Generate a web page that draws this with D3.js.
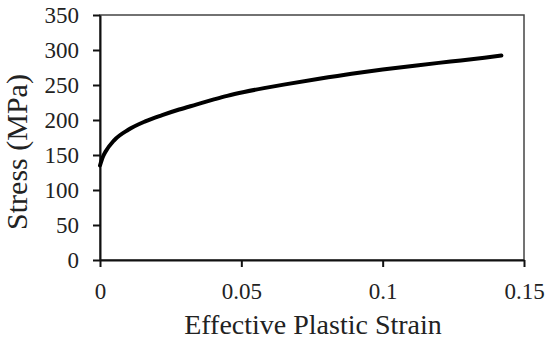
<!DOCTYPE html>
<html lang="en">
<head>
  <meta charset="UTF-8" />
  <script src="https://d3js.org/d3.v7.min.js"></script>
  <title>Stress vs strain</title>
  <style>
    body { margin: 0; background: #fff; }
    text { font-family: "Liberation Serif", "Times New Roman", serif; fill: #222; }
    .tick text { font-size: 23px; }
    .axis path, .axis line { stroke: #111; stroke-width: 2; }
    .frame { fill: none; stroke: #444; stroke-width: 1.5; }
    .curve { fill: none; stroke: #000; stroke-width: 4; stroke-linejoin: round; stroke-linecap: round; }
  </style>
</head>
<body>
<script>
// values
var strain = [0, 0.001, 0.002, 0.005, 0.010, 0.016, 0.022, 0.028, 0.034, 0.040, 0.045,
              0.051, 0.058, 0.065, 0.077, 0.089, 0.100, 0.112, 0.124, 0.136, 0.142];
var stress = [135, 147, 155, 171, 186, 198, 207, 215, 222, 229, 234.5,
              240, 245.5, 250.5, 258.5, 266, 272, 278, 283.5, 289, 292];
var xTicks = [0, 0.05, 0.1, 0.15];
var yTicks = [0, 50, 100, 150, 200, 250, 300, 350];

var width = 550, height = 342;
var mLeft = 100, mRight = 524, mTop = 15, mBottom = 260;

var svg = d3.select("body").append("svg")
  .attr("width", width).attr("height", height);

var x = d3.scaleLinear().domain([0, 0.15]).range([mLeft, mRight]);
var y = d3.scaleLinear().domain([0, 350]).range([mBottom, mTop]);

// top/right frame
svg.append("rect").attr("class", "frame")
  .attr("x", mLeft).attr("y", mTop)
  .attr("width", mRight - mLeft).attr("height", mBottom - mTop);

var xAxis = svg.append("g").attr("class", "axis")
  .attr("transform", "translate(0," + mBottom + ")")
  .call(d3.axisBottom(x).tickValues(xTicks).tickSize(7).tickSizeOuter(0)
    .tickFormat(function(d){ return d3.format("")(d); }));
xAxis.selectAll(".tick text").attr("dy", "1.25em");

var yAxis = svg.append("g").attr("class", "axis")
  .attr("transform", "translate(" + mLeft + ",0)")
  .call(d3.axisLeft(y).tickValues(yTicks).tickSize(7).tickSizeOuter(0));
yAxis.selectAll(".tick text").attr("x", -21).attr("dy", "0.34em");
svg.selectAll(".domain").attr("stroke-width", 2.2);

var pts = strain.map(function(s, i){ return [s, stress[i]]; });
var line = d3.line()
  .x(function(d){ return x(d[0]); })
  .y(function(d){ return y(d[1]); })
  .curve(d3.curveMonotoneX);
svg.append("path").datum(pts).attr("class", "curve").attr("d", line);

svg.append("text")
  .attr("x", (mLeft + mRight) / 2 + 1).attr("y", 334)
  .attr("text-anchor", "middle")
  .style("font-size", "28px")
  .text("Effective Plastic Strain");

svg.append("text")
  .attr("transform", "translate(27,152) rotate(-90)")
  .attr("text-anchor", "middle")
  .style("font-size", "30px")
  .text("Stress (MPa)");
</script>
</body>
</html>
